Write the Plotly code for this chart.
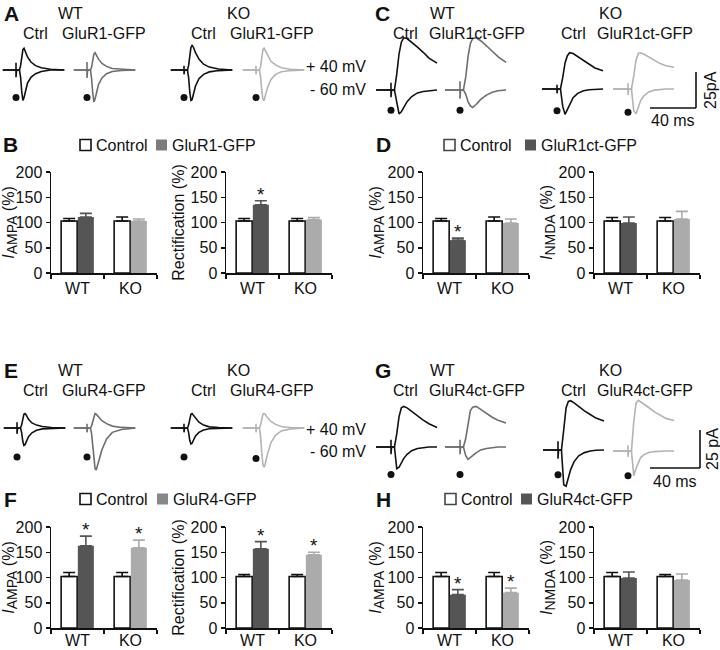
import plotly.graph_objects as go

W, H = 720, 650
FONT = "Liberation Sans, Arial, Helvetica, sans-serif"
BLACK = "#111111"
DARK = "#555555"
LIGHT = "#ababab"
TR_WT = "#6e6e6e"
TR_KO = "#b3b3b3"

# ---------------- bar data (percent of control) ----------------
groups = ["WT", "KO"]

b_iampa_ctrl = [103, 103]
b_iampa_ctrl_err = [5, 8]
b_iampa_gfp = [111, 103]
b_iampa_gfp_err = [7, 4]
b_iampa_sig = [False, False]

b_rect_ctrl = [103, 103]
b_rect_ctrl_err = [5, 5]
b_rect_gfp = [135, 106]
b_rect_gfp_err = [8, 4]
b_rect_sig = [True, False]

d_iampa_ctrl = [103, 103]
d_iampa_ctrl_err = [5, 8]
d_iampa_gfp = [65, 99]
d_iampa_gfp_err = [4, 8]
d_iampa_sig = [True, False]

d_inmda_ctrl = [103, 103]
d_inmda_ctrl_err = [7, 7]
d_inmda_gfp = [99, 107]
d_inmda_gfp_err = [12, 15]
d_inmda_sig = [False, False]

f_iampa_ctrl = [102, 102]
f_iampa_ctrl_err = [8, 8]
f_iampa_gfp = [163, 159]
f_iampa_gfp_err = [19, 15]
f_iampa_sig = [True, True]

f_rect_ctrl = [102, 102]
f_rect_ctrl_err = [4, 4]
f_rect_gfp = [157, 145]
f_rect_gfp_err = [14, 5]
f_rect_sig = [True, True]

h_iampa_ctrl = [102, 102]
h_iampa_ctrl_err = [8, 8]
h_iampa_gfp = [66, 70]
h_iampa_gfp_err = [10, 9]
h_iampa_sig = [True, True]

h_inmda_ctrl = [102, 102]
h_inmda_ctrl_err = [8, 4]
h_inmda_gfp = [99, 95]
h_inmda_gfp_err = [12, 12]
h_inmda_sig = [False, False]

# ---------------- example current traces (ms from stimulus, pA) ----------------
t_fast = [-11.5, 0, 0, 0, 0.5, 3, 4, 5, 6, 7, 8, 10, 13, 17, 22, 30, 42]

a_wt_ctrl_p40 = [0, 0, 0, 0, 0, 0, 3, 9, 14, 15, 13, 9, 5.5, 3, 1.5, 0.5, 0]
a_wt_ctrl_m60 = [0, 0, 5, -5, 0, 0, -5, -15, -21, -19, -15, -9, -5, -2.5, -1, 0, 0]
a_wt_gfp_p40 = [0, 0, 0, 0, 0, 0, 2, 7, 11, 12, 10.5, 7.5, 4.5, 2.5, 1, 0.4, 0]
a_wt_gfp_m60 = [0, 0, 5.5, -5.5, 0, 0, -6, -16, -22, -20, -16, -10, -5.5, -2.5, -1, -0.3, 0]
a_ko_ctrl_p40 = [0, 0, 0, 0, 0, 0, 3, 10, 15.5, 17, 16, 12, 7.5, 4, 2, 0.7, 0]
a_ko_ctrl_m60 = [0, 0, 3, -3, 0, 0, -5, -15, -21, -20.5, -17, -11, -6, -3, -1.3, -0.4, 0]
a_ko_gfp_p40 = [0, 0, 0, 0, 0, 0, 2.5, 9, 14, 15, 13.5, 10, 6, 3.5, 1.5, 0.5, 0]
a_ko_gfp_m60 = [0, 0, 3, -3, 0, 0, -5, -14, -20, -21, -18, -12, -6.5, -3, -1.2, -0.4, 0]

e_wt_ctrl_p40 = [0, 0, 0, 0, 0, 0, 2, 6.5, 9.5, 10, 9, 6, 3.5, 2, 1, 0.3, 0]
e_wt_ctrl_m60 = [0, 0, 4, -4, 0, 0, -3, -9, -12, -11.5, -9.5, -6, -3.3, -1.6, -0.6, -0.2, 0]
e_wt_gfp_p40 = [0, 0, 0, 0, 0, 0, 1.5, 5, 8.5, 10, 9.5, 7.5, 5, 3, 1.3, 0.4, 0]
e_wt_gfp_m60 = [0, 0, 3, -3, 0, 0, -4, -12, -22, -28, -29, -24, -15, -7.5, -3, -1, 0]
e_ko_ctrl_p40 = [0, 0, 0, 0, 0, 0, 2, 6, 9.5, 10, 9, 6.5, 4, 2, 0.8, 0.3, 0]
e_ko_ctrl_m60 = [0, 0, 3, -3, 0, 0, -3, -8.5, -11, -10.5, -8.5, -5.5, -3, -1.4, -0.5, -0.2, 0]
e_ko_gfp_p40 = [0, 0, 0, 0, 0, 0, 2, 6.5, 9.5, 10, 9.5, 7, 4.5, 2.5, 1, 0.3, 0]
e_ko_gfp_m60 = [0, 0, 3, -3, 0, 0, -6, -17, -25, -27, -25, -18, -10, -5, -2, -0.6, 0]

t_slow = [-13, 0, 0, 0, 0.5, 3, 5, 7, 9, 11, 14, 18, 23, 28, 33, 40]

c_wt_ctrl_p40 = [0, 0, 0, 0, 0, 0, 11, 25, 33, 36, 35.5, 33, 29.5, 26, 22, 18.5]
c_wt_ctrl_m60 = [0, 0, 5, -5, 0, 0, -8, -16.5, -15, -12, -8, -4.5, -2, -1, -0.4, 0]
c_wt_gfp_p40 = [0, 0, 0, 0, 0, 0, 9, 23, 32, 35.5, 36, 34, 30.5, 27, 23, 19]
c_wt_gfp_m60 = [0, 0, 6, -6, 0, 0, -3, -8, -11, -12, -10, -6.5, -3.5, -1.5, -0.5, 0]
c_ko_ctrl_p40 = [0, 0, 0, 0, 0, 0, 8, 18, 23, 25, 24.5, 22.5, 19.5, 17, 14.5, 12.5]
c_ko_ctrl_m60 = [0, 0, 3, -3, 0, 0, -12, -17.5, -14, -10, -6, -3, -1.2, -0.5, -0.2, 0]
c_ko_gfp_p40 = [0, 0, 0, 0, 0, 0, 9, 20, 24.5, 25, 24, 22, 19.5, 17.5, 16, 15]
c_ko_gfp_m60 = [0, 0, 4, -4, 0, 0, -15, -17, -12, -8, -4.5, -2, -0.8, -0.3, 0, 0]

g_wt_ctrl_p40 = [0, 0, 0, 0, 0, 0, 9, 21, 27, 28, 27, 24.5, 21, 18.5, 16, 13.5]
g_wt_ctrl_m60 = [0, 0, 5, -5, 0, 0, -15, -14, -11, -8, -5, -2.5, -1, -0.4, 0, 0]
g_wt_gfp_p40 = [0, 0, 0, 0, 0, 0, 6, 17, 25, 27.5, 28, 26, 23, 20.5, 18.5, 16.5]
g_wt_gfp_m60 = [0, 0, 5, -5, 0, 0, -6, -8.5, -7.5, -6, -4, -2, -1, -0.3, 0, 0]
g_ko_ctrl_p40 = [0, 0, 0, 0, 0, 0, 14, 29, 33.5, 34, 32.5, 30, 27, 24.5, 22, 20]
g_ko_ctrl_m60 = [0, 0, 6, -6, 0, 0, -24, -25, -19, -13.5, -8, -4, -1.8, -0.7, -0.2, 0]
g_ko_gfp_p40 = [0, 0, 0, 0, 0, 0, 20, 33, 35, 34, 32.5, 30, 27, 24.5, 22.5, 21]
g_ko_gfp_m60 = [0, 0, 4, -4, 0, 0, -17, -12, -7.5, -4.5, -2.5, -1, -0.4, 0, 0, 0]

stim_time = 0  # stimulus marker position (ms)

# ---------------- helpers ----------------
KX = 1.15   # px per ms
KY = 1.45   # px per pA


def px_x(x):
    return x / W


def px_y(y):
    return 1 - y / H


fig = go.Figure()
layout = {}
annotations = []
shapes = []


def names(i):
    xr = "x" if i == 1 else f"x{i}"
    yr = "y" if i == 1 else f"y{i}"
    xk = "xaxis" if i == 1 else f"xaxis{i}"
    yk = "yaxis" if i == 1 else f"yaxis{i}"
    return xr, yr, xk, yk


BAR_W = 106
BAR_H = 101
GFP_OFF = 0.1575


def bar_panel(i, ctrl, ctrl_err, gfp, gfp_err, sig, x0, y_top, title, lab_shift=0):
    xr, yr, xk, yk = names(i)
    fig.add_trace(go.Bar(
        x=groups, y=ctrl, offsetgroup="ctrl",
        marker=dict(color="white", line=dict(color=BLACK, width=1.6)),
        error_y=dict(type="data", symmetric=False, array=ctrl_err,
                     arrayminus=[0] * len(ctrl), color=BLACK, thickness=1.6, width=6),
        xaxis=xr, yaxis=yr, showlegend=False, hoverinfo="skip"))
    for k, col in enumerate([DARK, LIGHT]):
        fig.add_trace(go.Bar(
            x=[groups[k]], y=[gfp[k]], offsetgroup="gfp",
            marker=dict(color=col, line=dict(width=0)),
            error_y=dict(type="data", symmetric=False, array=[gfp_err[k]],
                         arrayminus=[0], color=col, thickness=1.6, width=6),
            xaxis=xr, yaxis=yr, showlegend=False, hoverinfo="skip"))
        if sig[k]:
            annotations.append(dict(
                x=k + GFP_OFF, y=gfp[k] + gfp_err[k], xref=xr, yref=yr,
                text="*", showarrow=False, yanchor="bottom", yshift=-6,
                font=dict(size=19, color=BLACK)))
    layout[xk] = dict(
        domain=[px_x(x0), px_x(x0 + BAR_W)], type="category",
        categoryorder="array", categoryarray=groups, range=[-0.5, 1.5],
        anchor=yr, showline=True, linecolor=BLACK, linewidth=1.5,
        ticks="outside", tickson="boundaries", ticklen=4, tickwidth=1.5,
        tickcolor=BLACK, tickfont=dict(size=16, color=BLACK),
        ticklabelstandoff=lab_shift,
        showgrid=False, zeroline=False, fixedrange=True)
    layout[yk] = dict(
        domain=[px_y(y_top + BAR_H), px_y(y_top)], range=[0, 200],
        tickvals=[0, 50, 100, 150, 200], anchor=xr, showline=True,
        linecolor=BLACK, linewidth=1.5, ticks="outside", ticklen=4,
        tickwidth=1.5, tickcolor=BLACK, tickfont=dict(size=16, color=BLACK),
        title=dict(text=title, font=dict(size=16, color=BLACK), standoff=2),
        showgrid=False, zeroline=False, fixedrange=True)


def trace_pair(i, t, p40, m60, color, sx, by, dot_level):
    xr, yr, xk, yk = names(i)
    fig.add_trace(go.Scatter(x=t, y=m60, mode="lines",
                             line=dict(color=color, width=1.6),
                             xaxis=xr, yaxis=yr, showlegend=False, hoverinfo="skip"))
    fig.add_trace(go.Scatter(x=t, y=p40, mode="lines",
                             line=dict(color=color, width=1.6),
                             xaxis=xr, yaxis=yr, showlegend=False, hoverinfo="skip"))
    fig.add_trace(go.Scatter(x=[stim_time], y=[dot_level], mode="markers",
                             marker=dict(color=BLACK, size=7), cliponaxis=False,
                             xaxis=xr, yaxis=yr, showlegend=False, hoverinfo="skip"))
    left, right, up, down = 16, 60, 70, 50
    layout[xk] = dict(domain=[px_x(sx - left), px_x(sx + right)],
                      range=[-left / KX, right / KX], visible=False, anchor=yr,
                      fixedrange=True)
    layout[yk] = dict(domain=[px_y(by + down), px_y(by - up)],
                      range=[-down / KY, up / KY], visible=False, anchor=xr,
                      fixedrange=True)


def text(x, y, s, size=15, xanchor="center", bold=False, angle=0):
    annotations.append(dict(
        x=px_x(x), y=px_y(y), xref="paper", yref="paper", text=f"<b>{s}</b>" if bold else s,
        showarrow=False, xanchor=xanchor, yanchor="middle", textangle=angle,
        font=dict(size=size, color=BLACK)))


def legend(y, x_ctrl, x_gfp, label, gfp_color, ctrl_outline):
    s = 11
    shapes.append(dict(type="rect", xref="paper", yref="paper",
                       x0=px_x(x_ctrl), x1=px_x(x_ctrl + s), y0=px_y(y + s / 2), y1=px_y(y - s / 2),
                       line=dict(color=ctrl_outline, width=1.6), fillcolor="white"))
    text(x_ctrl + s + 3, y, "Control", size=16, xanchor="left")
    shapes.append(dict(type="rect", xref="paper", yref="paper",
                       x0=px_x(x_gfp), x1=px_x(x_gfp + s), y0=px_y(y + s / 2), y1=px_y(y - s / 2),
                       line=dict(width=0), fillcolor=gfp_color))
    text(x_gfp + s + 3, y, label, size=16, xanchor="left")


def line(x0, y0, x1, y1):
    shapes.append(dict(type="line", xref="paper", yref="paper",
                       x0=px_x(x0), y0=px_y(y0), x1=px_x(x1), y1=px_y(y1),
                       line=dict(color=BLACK, width=1.6)))


# ---------------- bar panels ----------------
SUBSTYLE = '<span style="font-size:14px">'
IAMPA = f"<i>I</i><sub>{SUBSTYLE}AMPA</span></sub> (%)"
INMDA = f"<i>I</i><sub>{SUBSTYLE}NMDA</span></sub> (%)"
RECT = "Rectification (%)"

bar_panel(1, b_iampa_ctrl, b_iampa_ctrl_err, b_iampa_gfp, b_iampa_gfp_err, b_iampa_sig, 51, 172, IAMPA)
bar_panel(2, b_rect_ctrl, b_rect_ctrl_err, b_rect_gfp, b_rect_gfp_err, b_rect_sig, 226, 172, RECT)
bar_panel(3, d_iampa_ctrl, d_iampa_ctrl_err, d_iampa_gfp, d_iampa_gfp_err, d_iampa_sig, 423, 172, IAMPA)
bar_panel(4, d_inmda_ctrl, d_inmda_ctrl_err, d_inmda_gfp, d_inmda_gfp_err, d_inmda_sig, 594, 172, INMDA)
bar_panel(5, f_iampa_ctrl, f_iampa_ctrl_err, f_iampa_gfp, f_iampa_gfp_err, f_iampa_sig, 51, 527, IAMPA, -3)
bar_panel(6, f_rect_ctrl, f_rect_ctrl_err, f_rect_gfp, f_rect_gfp_err, f_rect_sig, 226, 527, RECT, -3)
bar_panel(7, h_iampa_ctrl, h_iampa_ctrl_err, h_iampa_gfp, h_iampa_gfp_err, h_iampa_sig, 423, 527, IAMPA, -3)
bar_panel(8, h_inmda_ctrl, h_inmda_ctrl_err, h_inmda_gfp, h_inmda_gfp_err, h_inmda_sig, 594, 527, INMDA, -3)

# ---------------- trace panels ----------------
trace_pair(9, t_fast, a_wt_ctrl_p40, a_wt_ctrl_m60, BLACK, 16, 70, -19)
trace_pair(10, t_fast, a_wt_gfp_p40, a_wt_gfp_m60, TR_WT, 87, 70, -19)
trace_pair(11, t_fast, a_ko_ctrl_p40, a_ko_ctrl_m60, BLACK, 184, 70, -19)
trace_pair(12, t_fast, a_ko_gfp_p40, a_ko_gfp_m60, TR_KO, 256, 70, -19)

trace_pair(13, t_slow, c_wt_ctrl_p40, c_wt_ctrl_m60, BLACK, 391, 90, -14)
trace_pair(14, t_slow, c_wt_gfp_p40, c_wt_gfp_m60, TR_WT, 460, 90, -14)
trace_pair(15, t_slow, c_ko_ctrl_p40, c_ko_ctrl_m60, BLACK, 557, 89, -15)
trace_pair(16, t_slow, c_ko_gfp_p40, c_ko_gfp_m60, TR_KO, 628, 89, -16)

trace_pair(17, t_fast, e_wt_ctrl_p40, e_wt_ctrl_m60, BLACK, 17, 428, -20)
trace_pair(18, t_fast, e_wt_gfp_p40, e_wt_gfp_m60, TR_WT, 87, 428, -20)
trace_pair(19, t_fast, e_ko_ctrl_p40, e_ko_ctrl_m60, BLACK, 184, 428, -20)
trace_pair(20, t_fast, e_ko_gfp_p40, e_ko_gfp_m60, TR_KO, 256, 428, -21)

trace_pair(21, t_slow, g_wt_ctrl_p40, g_wt_ctrl_m60, BLACK, 391, 447, -19)
trace_pair(22, t_slow, g_wt_gfp_p40, g_wt_gfp_m60, TR_WT, 460, 447, -19)
trace_pair(23, t_slow, g_ko_ctrl_p40, g_ko_ctrl_m60, BLACK, 558, 450, -17)
trace_pair(24, t_slow, g_ko_gfp_p40, g_ko_gfp_m60, TR_KO, 628, 451, -17)

# ---------------- labels ----------------
for letter, x, y in [("A", 2, 13), ("B", 1, 144), ("C", 373, 13), ("D", 374, 144),
                     ("E", 2, 370), ("F", 2, 499), ("G", 373, 370), ("H", 374, 499)]:
    text(x, y, letter, size=21, xanchor="left", bold=True)

for row_y, gfp1, gfp2 in [(13, "GluR1-GFP", "GluR1ct-GFP"), (370, "GluR4-GFP", "GluR4ct-GFP")]:
    text(70, row_y, "WT", size=16)
    text(238, row_y, "KO", size=16)
    text(35, row_y + 20, "Ctrl", size=16)
    text(104, row_y + 20, gfp1, size=16)
    text(203, row_y + 20, "Ctrl", size=16)
    text(272, row_y + 20, gfp1, size=16)
    text(442, row_y, "WT", size=16)
    text(610, row_y, "KO", size=16)
    text(405, row_y + 20, "Ctrl", size=16)
    text(477, row_y + 20, gfp2, size=16)
    text(573, row_y + 20, "Ctrl", size=16)
    text(645, row_y + 20, gfp2, size=16)

text(368, 66, "+ 40 mV", size=16, xanchor="right")
text(368, 89, "- 60 mV", size=16, xanchor="right")
text(368, 429, "+ 40 mV", size=16, xanchor="right")
text(368, 451, "- 60 mV", size=16, xanchor="right")

# scale bars
line(650, 108, 696, 108)
line(696, 108, 696, 72)
text(673, 121, "40 ms", size=16)
text(711, 90, "25pA", size=16, angle=-90)

line(650, 468, 700, 468)
line(700, 468, 700, 430)
text(675, 481, "40 ms", size=16)
text(712, 449, "25 pA", size=16, angle=-90)

# legends
legend(145, 80, 156, "GluR1-GFP", "#7c7c7c", BLACK)
legend(145, 444, 525, "GluR1ct-GFP", DARK, "#444444")
legend(499, 80, 157, "GluR4-GFP", "#888888", BLACK)
legend(499, 445, 521, "GluR4ct-GFP", DARK, "#444444")

fig.update_layout(
    template="none",
    width=W, height=H, autosize=False,
    margin=dict(l=0, r=0, t=0, b=0),
    paper_bgcolor="white", plot_bgcolor="rgba(0,0,0,0)",
    font=dict(family=FONT, size=15, color=BLACK),
    barmode="group", bargap=0.37, bargroupgap=0.04,
    showlegend=False,
    annotations=annotations, shapes=shapes,
    **layout,
)

fig.write_html("out.html", config={"displayModeBar": False, "staticPlot": True},
               post_script="document.body.style.margin='0';document.body.style.padding='0';")
